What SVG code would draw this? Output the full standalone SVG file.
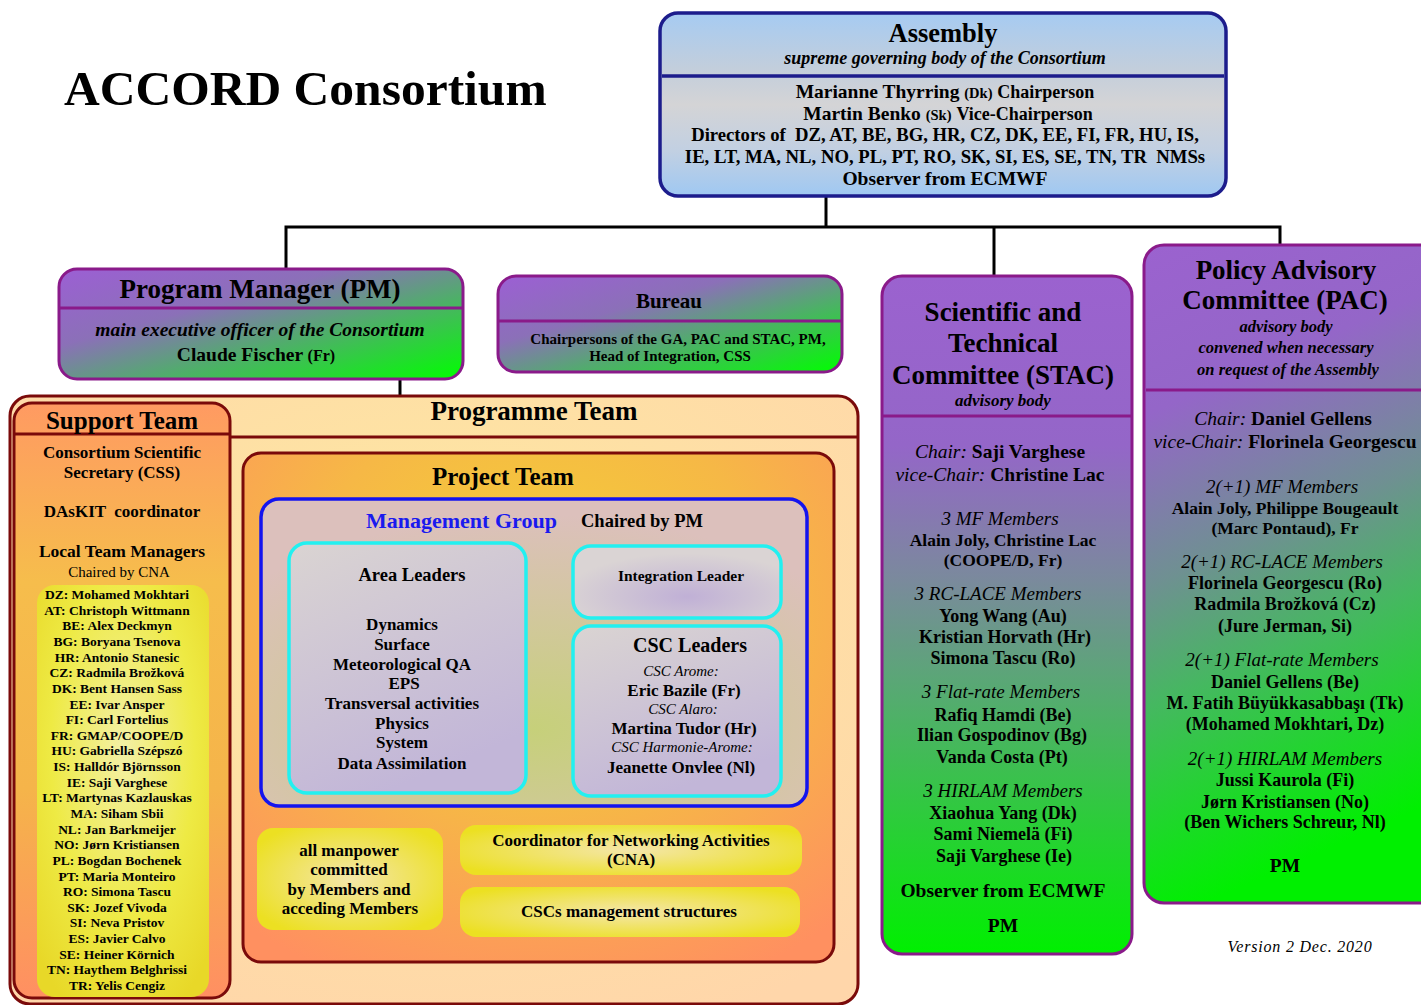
<svg xmlns="http://www.w3.org/2000/svg" width="1421" height="1005" viewBox="0 0 1421 1005">
<style>
text{font-family:"Liberation Serif","Times New Roman",serif;fill:#000}
.c{text-anchor:middle}
.b{font-weight:bold}
.i{font-style:italic}
.n{font-weight:normal}
.conn{stroke:#000;stroke-width:3;fill:none}
.pur{stroke:#8a1a8a;stroke-width:3}
.red{stroke:#7a0a0a;stroke-width:3}
.cy{stroke:#22f0f0;stroke-width:3.5}
.lst{font-weight:bold;font-size:13.5px;text-anchor:middle}
</style>
<defs>
<linearGradient id="gAsm" x1="0" y1="0" x2="0" y2="1">
<stop offset="0" stop-color="#a6cbf2"/><stop offset="0.3" stop-color="#c2cedc"/><stop offset="0.5" stop-color="#d4d4d6"/><stop offset="0.75" stop-color="#c2d0e2"/><stop offset="1" stop-color="#9fc8f2"/>
</linearGradient>
<linearGradient id="gPM" x1="0" y1="0" x2="1" y2="1">
<stop offset="0" stop-color="#9c5fd4"/><stop offset="0.35" stop-color="#8b70b8"/><stop offset="0.62" stop-color="#4fae6a"/><stop offset="1" stop-color="#00ff00"/>
</linearGradient>
<linearGradient id="gStac" x1="0" y1="0" x2="0" y2="1">
<stop offset="0" stop-color="#9b62cf"/><stop offset="0.25" stop-color="#9466c8"/><stop offset="0.45" stop-color="#7a8a9c"/><stop offset="0.62" stop-color="#55ab70"/><stop offset="1" stop-color="#00f000"/>
</linearGradient>
<linearGradient id="gPac" x1="0" y1="0" x2="0.2" y2="1">
<stop offset="0" stop-color="#9b62cf"/><stop offset="0.25" stop-color="#9466c8"/><stop offset="0.5" stop-color="#6f9092"/><stop offset="0.68" stop-color="#45b860"/><stop offset="1" stop-color="#00f000"/>
</linearGradient>
<radialGradient id="gProg" cx="0.5" cy="0.35" r="0.75">
<stop offset="0" stop-color="#fde9a0"/><stop offset="1" stop-color="#ffd6aa"/>
</radialGradient>
<linearGradient id="gSup" x1="0" y1="0" x2="0" y2="1">
<stop offset="0" stop-color="#ff9a62"/><stop offset="0.3" stop-color="#f6bd4c"/><stop offset="0.65" stop-color="#f5b44a"/><stop offset="1" stop-color="#ff8f62"/>
</linearGradient>
<radialGradient id="gProj" cx="0.5" cy="0.3" r="0.8">
<stop offset="0" stop-color="#f3d234"/><stop offset="0.5" stop-color="#f6b846"/><stop offset="1" stop-color="#ff9060"/>
</radialGradient>
<radialGradient id="gMg" cx="0.5" cy="0.75" r="0.7">
<stop offset="0" stop-color="#c6d07a"/><stop offset="1" stop-color="#dcc0bc"/>
</radialGradient>
<linearGradient id="gLead" x1="0" y1="0" x2="0.4" y2="1">
<stop offset="0" stop-color="#dad4d2"/><stop offset="1" stop-color="#c2b6d8"/>
</linearGradient>
<radialGradient id="gInt" cx="0.55" cy="0.7" r="0.6">
<stop offset="0" stop-color="#c0b0d6"/><stop offset="1" stop-color="#dad4d4"/>
</radialGradient>
<radialGradient id="gYel" cx="0.5" cy="0.5" r="0.6">
<stop offset="0" stop-color="#f4e6aa"/><stop offset="1" stop-color="#ece022"/>
</radialGradient>
<radialGradient id="gLtm" cx="0.5" cy="0.4" r="0.7">
<stop offset="0" stop-color="#f3f0a6"/><stop offset="0.6" stop-color="#eeea44"/><stop offset="1" stop-color="#e8d828"/>
</radialGradient>
</defs>
<rect width="1421" height="1005" fill="#fff"/>

<g id="title">
<text x="64" y="105" class="b" font-size="49.5">ACCORD Consortium</text>
</g>

<g id="connectors">
<line class="conn" x1="826" y1="196" x2="826" y2="227"/>
<polyline class="conn" points="286,268 286,227 1280,227 1280,244"/>
<line class="conn" x1="994" y1="227" x2="994" y2="276"/>
<line class="conn" x1="400" y1="379" x2="400" y2="396"/>
</g>

<g id="assembly">
<rect x="660" y="13" width="566" height="183" rx="18" fill="url(#gAsm)" stroke="#1c1c8c" stroke-width="3.5"/>
<line x1="662" y1="76" x2="1224" y2="76" stroke="#1c1c8c" stroke-width="3.5"/>
<text x="943" y="42" class="c b" font-size="26.5">Assembly</text>
<text x="945" y="64" class="c b i" font-size="18">supreme governing body of the Consortium</text>
<text x="945" y="98" class="c b" font-size="19.5">Marianne Thyrring <tspan font-size="14.5">(Dk)</tspan> <tspan font-size="18">Chairperson</tspan></text>
<text x="948" y="120" class="c b" font-size="19.5">Martin Benko <tspan font-size="14.5">(Sk)</tspan> <tspan font-size="18">Vice-Chairperson</tspan></text>
<text x="945" y="141" class="c b" font-size="18.7" xml:space="preserve">Directors of  DZ, AT, BE, BG, HR, CZ, DK, EE, FI, FR, HU, IS,</text>
<text x="945" y="163" class="c b" font-size="18.7" xml:space="preserve">IE, LT, MA, NL, NO, PL, PT, RO, SK, SI, ES, SE, TN, TR  NMSs</text>
<text x="945" y="185" class="c b" font-size="19.5">Observer from ECMWF</text>
</g>

<g id="pm">
<rect x="59" y="269" width="404" height="110" rx="18" fill="url(#gPM)" class="pur"/>
<line x1="60" y1="308" x2="462" y2="308" class="pur"/>
<text x="260" y="298" class="c b" font-size="27">Program Manager (PM)</text>
<text x="260" y="336" class="c b i" font-size="19.5">main executive officer of the Consortium</text>
<text x="256" y="361" class="c b" font-size="19.5">Claude Fischer <tspan font-size="16">(Fr)</tspan></text>
</g>

<g id="bureau">
<rect x="498" y="276" width="344" height="96" rx="18" fill="url(#gPM)" class="pur"/>
<line x1="499" y1="321" x2="841" y2="321" class="pur"/>
<text x="669" y="308" class="c b" font-size="21">Bureau</text>
<text x="678" y="344" class="c b" font-size="15">Chairpersons of the GA, PAC and STAC, PM,</text>
<text x="670" y="361" class="c b" font-size="15">Head of Integration, CSS</text>
</g>

<g id="stac">
<rect x="882" y="276" width="250" height="678" rx="20" fill="url(#gStac)" class="pur"/>
<line x1="883" y1="416" x2="1131" y2="416" class="pur"/>
<g class="c">
<text x="1003" y="321" class="c b" font-size="27">Scientific and</text>
<text x="1003" y="352" class="c b" font-size="27">Technical</text>
<text x="1003" y="384" class="c b" font-size="27">Committee (STAC)</text>
<text x="1003" y="406" class="c b i" font-size="17">advisory body</text>
<text x="1000" y="458" class="c" font-size="19.5"><tspan class="i">Chair:</tspan> <tspan class="b">Saji Varghese</tspan></text>
<text x="1000" y="481" class="c" font-size="19.5"><tspan class="i">vice-Chair:</tspan> <tspan class="b">Christine Lac</tspan></text>
<text x="1000" y="525" class="c i" font-size="19">3 MF Members</text>
<text x="1003" y="546" class="c b" font-size="17.5">Alain Joly, Christine Lac</text>
<text x="1003" y="566" class="c b" font-size="17.5">(COOPE/D, Fr)</text>
<text x="998" y="600" class="c i" font-size="19">3 RC-LACE Members</text>
<text x="1003" y="622" class="c b" font-size="18">Yong Wang (Au)</text>
<text x="1005" y="643" class="c b" font-size="18">Kristian Horvath (Hr)</text>
<text x="1003" y="664" class="c b" font-size="18">Simona Tascu (Ro)</text>
<text x="1001" y="698" class="c i" font-size="19">3 Flat-rate Members</text>
<text x="1003" y="721" class="c b" font-size="18">Rafiq Hamdi (Be)</text>
<text x="1002" y="741" class="c b" font-size="18">Ilian Gospodinov (Bg)</text>
<text x="1002" y="763" class="c b" font-size="18">Vanda Costa (Pt)</text>
<text x="1003" y="797" class="c i" font-size="19">3 HIRLAM Members</text>
<text x="1003" y="819" class="c b" font-size="18">Xiaohua Yang (Dk)</text>
<text x="1003" y="840" class="c b" font-size="18">Sami Niemelä (Fi)</text>
<text x="1004" y="862" class="c b" font-size="18">Saji Varghese (Ie)</text>
<text x="1003" y="897" class="c b" font-size="19.5">Observer from ECMWF</text>
<text x="1003" y="932" class="c b" font-size="19.5">PM</text>
</g>
</g>

<g id="pac">
<rect x="1144" y="245" width="300" height="658" rx="20" fill="url(#gPac)" class="pur"/>
<line x1="1146" y1="390" x2="1421" y2="390" class="pur"/>
<text x="1286" y="279" class="c b" font-size="27">Policy Advisory</text>
<text x="1285" y="309" class="c b" font-size="27">Committee (PAC)</text>
<text x="1286" y="332" class="c b i" font-size="16.5">advisory body</text>
<text x="1286" y="353" class="c b i" font-size="16.5">convened when necessary</text>
<text x="1288" y="375" class="c b i" font-size="16.5">on request of the Assembly</text>
<text x="1283" y="425" class="c" font-size="19.5"><tspan class="i">Chair:</tspan> <tspan class="b">Daniel Gellens</tspan></text>
<text x="1285" y="448" class="c" font-size="19.5"><tspan class="i">vice-Chair:</tspan> <tspan class="b">Florinela Georgescu</tspan></text>
<text x="1282" y="493" class="c i" font-size="19">2(+1) MF Members</text>
<text x="1285" y="514" class="c b" font-size="17.5">Alain Joly, Philippe Bougeault</text>
<text x="1285" y="534" class="c b" font-size="17.5">(Marc Pontaud), Fr</text>
<text x="1282" y="568" class="c i" font-size="19">2(+1) RC-LACE Members</text>
<text x="1285" y="589" class="c b" font-size="18">Florinela Georgescu (Ro)</text>
<text x="1285" y="610" class="c b" font-size="18">Radmila Brožková (Cz)</text>
<text x="1285" y="632" class="c b" font-size="18">(Jure Jerman, Si)</text>
<text x="1282" y="666" class="c i" font-size="19">2(+1) Flat-rate Members</text>
<text x="1285" y="688" class="c b" font-size="18">Daniel Gellens (Be)</text>
<text x="1285" y="709" class="c b" font-size="18">M. Fatih Büyükkasabbaşı (Tk)</text>
<text x="1285" y="730" class="c b" font-size="18">(Mohamed Mokhtari, Dz)</text>
<text x="1285" y="765" class="c i" font-size="19">2(+1) HIRLAM Members</text>
<text x="1285" y="786" class="c b" font-size="18">Jussi Kaurola (Fi)</text>
<text x="1285" y="808" class="c b" font-size="18">Jørn Kristiansen (No)</text>
<text x="1285" y="828" class="c b" font-size="18">(Ben Wichers Schreur, Nl)</text>
<text x="1285" y="872" class="c b" font-size="19.5">PM</text>
</g>

<g id="programme-team">
<rect x="10" y="396" width="848" height="608" rx="20" fill="url(#gProg)" class="red"/>
<line x1="229" y1="437" x2="857" y2="437" class="red"/>
<text x="534" y="420" class="c b" font-size="27">Programme Team</text>
</g>

<g id="support-team">
<rect x="14" y="403" width="216" height="595" rx="18" fill="url(#gSup)" class="red"/>
<line x1="15" y1="434" x2="229" y2="434" class="red"/>
<text x="122" y="429" class="c b" font-size="25">Support Team</text>
<text x="122" y="458" class="c b" font-size="17">Consortium Scientific</text>
<text x="122" y="478" class="c b" font-size="17">Secretary (CSS)</text>
<text x="122" y="517" class="c b" font-size="17" xml:space="preserve">DAsKIT  coordinator</text>
<text x="122" y="557" class="c b" font-size="17.5">Local Team Managers</text>
<text x="119" y="577" class="c" font-size="15">Chaired by CNA</text>
</g>

<g id="local-team-managers">
<rect x="37" y="585" width="172" height="412" rx="18" fill="url(#gLtm)"/>
<text x="117" y="599" class="lst">DZ: Mohamed Mokhtari</text>
<text x="117" y="614.6" class="lst">AT: Christoph Wittmann</text>
<text x="117" y="630.3" class="lst">BE: Alex Deckmyn</text>
<text x="117" y="645.9" class="lst">BG: Boryana Tsenova</text>
<text x="117" y="661.6" class="lst">HR: Antonio Stanesic</text>
<text x="117" y="677.2" class="lst">CZ: Radmila Brožková</text>
<text x="117" y="692.8" class="lst">DK: Bent Hansen Sass</text>
<text x="117" y="708.5" class="lst">EE: Ivar Ansper</text>
<text x="117" y="724.1" class="lst">FI: Carl Fortelius</text>
<text x="117" y="739.8" class="lst">FR: GMAP/COOPE/D</text>
<text x="117" y="755.4" class="lst">HU: Gabriella Szépszó</text>
<text x="117" y="771" class="lst">IS: Halldór Björnsson</text>
<text x="117" y="786.7" class="lst">IE: Saji Varghese</text>
<text x="117" y="802.3" class="lst">LT: Martynas Kazlauskas</text>
<text x="117" y="818" class="lst">MA: Siham Sbii</text>
<text x="117" y="833.6" class="lst">NL: Jan Barkmeijer</text>
<text x="117" y="849.2" class="lst">NO: Jørn Kristiansen</text>
<text x="117" y="864.9" class="lst">PL: Bogdan Bochenek</text>
<text x="117" y="880.5" class="lst">PT: Maria Monteiro</text>
<text x="117" y="896.2" class="lst">RO: Simona Tascu</text>
<text x="117" y="911.8" class="lst">SK: Jozef Vivoda</text>
<text x="117" y="927.4" class="lst">SI: Neva Pristov</text>
<text x="117" y="943.1" class="lst">ES: Javier Calvo</text>
<text x="117" y="958.7" class="lst">SE: Heiner Körnich</text>
<text x="117" y="974.4" class="lst">TN: Haythem Belghrissi</text>
<text x="117" y="990" class="lst">TR: Yelis Cengiz</text>
</g>

<g id="project-team">
<rect x="243" y="453" width="591" height="509" rx="18" fill="url(#gProj)" class="red"/>
<text x="503" y="485" class="c b" font-size="25">Project Team</text>
</g>

<g id="management-group">
<rect x="261" y="499" width="546" height="307" rx="18" fill="url(#gMg)" stroke="#1414ee" stroke-width="3.5"/>
<text x="366" y="528" class="b" font-size="22" fill="#1a1aee" style="fill:#1a1aee">Management Group</text>
<text x="581" y="527" class="b" font-size="18.5">Chaired by PM</text>
</g>

<g id="area-leaders">
<rect x="289" y="543" width="237" height="250" rx="18" fill="url(#gLead)" class="cy"/>
<text x="412" y="581" class="c b" font-size="18.5">Area Leaders</text>
<text x="402" y="630" class="c b" font-size="17">Dynamics</text>
<text x="402" y="650" class="c b" font-size="17">Surface</text>
<text x="402" y="670" class="c b" font-size="17">Meteorological QA</text>
<text x="404" y="689" class="c b" font-size="17">EPS</text>
<text x="402" y="709" class="c b" font-size="17">Transversal activities</text>
<text x="402" y="729" class="c b" font-size="17">Physics</text>
<text x="402" y="748" class="c b" font-size="17">System</text>
<text x="402" y="769" class="c b" font-size="17">Data Assimilation</text>
</g>

<g id="integration-leader">
<rect x="573" y="546" width="208" height="72" rx="18" fill="url(#gInt)" class="cy"/>
<text x="681" y="581" class="c b" font-size="15.5">Integration Leader</text>
</g>

<g id="csc-leaders">
<rect x="573" y="626" width="208" height="170" rx="18" fill="url(#gLead)" class="cy"/>
<text x="690" y="652" class="c b" font-size="20">CSC Leaders</text>
<text x="681" y="676" class="c i" font-size="15">CSC Arome:</text>
<text x="684" y="696" class="c b" font-size="17">Eric Bazile (Fr)</text>
<text x="683" y="714" class="c i" font-size="15">CSC Alaro:</text>
<text x="684" y="734" class="c b" font-size="17">Martina Tudor (Hr)</text>
<text x="682" y="752" class="c i" font-size="15">CSC Harmonie-Arome:</text>
<text x="681" y="773" class="c b" font-size="17">Jeanette Onvlee (Nl)</text>
</g>

<g id="manpower">
<rect x="257" y="828" width="186" height="102" rx="16" fill="url(#gYel)"/>
<text x="349" y="856" class="c b" font-size="17">all manpower</text>
<text x="349" y="875" class="c b" font-size="17">committed</text>
<text x="349" y="895" class="c b" font-size="17">by Members and</text>
<text x="350" y="914" class="c b" font-size="17">acceding Members</text>
</g>

<g id="cna">
<rect x="460" y="825" width="342" height="50" rx="16" fill="url(#gYel)"/>
<text x="631" y="846" class="c b" font-size="17">Coordinator for Networking Activities</text>
<text x="631" y="865" class="c b" font-size="17">(CNA)</text>
</g>

<g id="csc-management">
<rect x="460" y="887" width="340" height="50" rx="16" fill="url(#gYel)"/>
<text x="629" y="917" class="c b" font-size="17">CSCs management structures</text>
</g>

<g id="version">
<text x="1300" y="952" class="c i" font-size="16" letter-spacing="0.8">Version 2 Dec. 2020</text>
</g>
</svg>
